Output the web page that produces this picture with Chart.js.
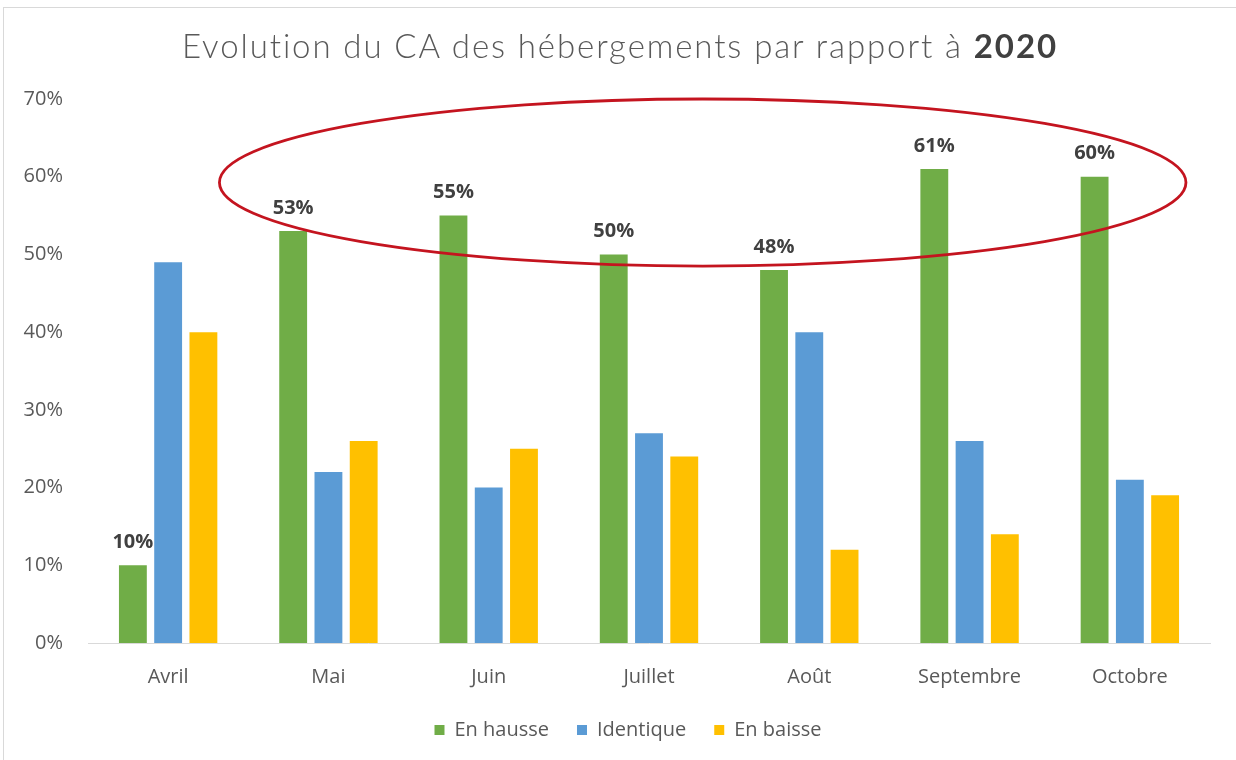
<!DOCTYPE html>
<html lang="fr">
<head>
    <meta charset="UTF-8">
    <title>Evolution du CA des hébergements</title>
    <script src="https://cdn.jsdelivr.net/npm/chart.js"></script>
    <style>
        * {
            margin: 0;
            padding: 0;
            box-sizing: border-box;
        }
        body {
            width: 1236px;
            height: 760px;
            background: #fff;
            overflow: hidden;
            position: relative;
            font-family: 'Open Sans', sans-serif;
        }
        .frame {
            position: absolute;
            left: 3px;
            top: 7px;
            width: 1240px;
            height: 760px;
            border: 1px solid #d9d9d9;
        }
        h1 {
            position: absolute;
            left: 0;
            top: 25px;
            width: 1240px;
            text-align: center;
            font-family: 'Lato', sans-serif;
            font-weight: 300;
            font-size: 33px;
            letter-spacing: 1.9px;
            color: #595959;
            z-index: 2;
        }
        h1 b {
            font-weight: 700;
            color: #404040;
        }
        #chart {
            position: absolute;
            left: 0;
            top: 0;
        }
    </style>
</head>
<body>
    <div class="frame"></div>
    <h1>Evolution du CA des hébergements par rapport à <b>2020</b></h1>
    <!-- canvas a bit taller than the window, the bottom part is cut off -->
    <canvas id="chart" width="1236" height="800"></canvas>

    <script>
        const months = ['Avril', 'Mai', 'Juin', 'Juillet', 'Août', 'Septembre', 'Octobre'];
        const enHausse = [10, 53, 55, 50, 48, 61, 60];
        const identique = [49, 22, 20, 27, 40, 26, 21];
        const enBaisse = [40, 26, 25, 24, 12, 14, 19];
        const yTicks = [0, 10, 20, 30, 40, 50, 60, 70];

        const font = "'Open Sans', sans-serif";

        // labels on top of the green bars
        const greenLabels = {
            id: 'greenLabels',
            afterDatasetsDraw(chart) {
                const ctx = chart.ctx;
                const meta = chart.getDatasetMeta(0);
                ctx.save();
                ctx.font = 'bold 20px ' + font;
                ctx.fillStyle = '#404040';
                ctx.textAlign = 'center';
                ctx.textBaseline = 'middle';
                meta.data.forEach((bar, i) => {
                    ctx.fillText(enHausse[i] + '%', bar.x, bar.y - 23);
                });
                ctx.restore();
            }
        };

        // red circle around the high values
        const ellipse = {
            id: 'ellipse',
            afterDatasetsDraw(chart) {
                const x = chart.scales.x;
                const y = chart.scales.y;
                const left = x.getPixelForValue(0.32);
                const right = x.getPixelForValue(6.35);
                const top = y.getPixelForValue(70);
                const bottom = y.getPixelForValue(48.5);
                const ctx = chart.ctx;
                ctx.save();
                ctx.beginPath();
                ctx.ellipse((left + right) / 2, (top + bottom) / 2, (right - left) / 2, (bottom - top) / 2, 0, 0, Math.PI * 2);
                ctx.strokeStyle = '#c4141f';
                ctx.lineWidth = 2.8;
                ctx.stroke();
                ctx.restore();
            }
        };

        // the legend sits a little right of the centre in the original
        const legendShift = {
            id: 'legendShift',
            afterLayout(chart) {
                chart.legend.left += 23;
                chart.legend.right += 23;
            }
        };

        const ctx = document.getElementById('chart').getContext('2d');
        new Chart(ctx, {
            type: 'bar',
            data: {
                labels: months,
                datasets: [
                    { label: 'En hausse', data: enHausse, backgroundColor: '#70ad47' },
                    { label: 'Identique', data: identique, backgroundColor: '#5b9bd5' },
                    { label: 'En baisse', data: enBaisse, backgroundColor: '#ffc000' }
                ]
            },
            options: {
                responsive: false,
                animation: false,
                categoryPercentage: 0.66,
                barPercentage: 0.79,
                layout: {
                    padding: { left: 0, right: 26, top: 99, bottom: 50 }
                },
                plugins: {
                    legend: {
                        position: 'bottom',
                        labels: {
                            boxWidth: 10,
                            boxHeight: 10,
                            padding: 28,
                            color: '#595959',
                            font: { size: 20, family: font }
                        }
                    },
                    tooltip: { enabled: false }
                },
                scales: {
                    x: {
                        grid: { display: false, drawTicks: false },
                        border: { display: true, color: '#d9d9d9', width: 1 },
                        ticks: {
                            color: '#595959',
                            padding: 22,
                            font: { size: 20, family: font }
                        },
                        afterFit(scale) { scale.height = 49; }
                    },
                    y: {
                        min: 0,
                        max: 70,
                        afterBuildTicks(scale) {
                            scale.ticks = yTicks.map(v => ({ value: v }));
                        },
                        grid: { display: false, drawTicks: false },
                        border: { display: false },
                        ticks: {
                            color: '#595959',
                            padding: 25,
                            font: { size: 20, family: font },
                            callback: v => v + '%'
                        },
                        afterFit(scale) { scale.width = 88; }
                    }
                }
            },
            plugins: [greenLabels, ellipse, legendShift]
        });
    </script>
</body>
</html>
